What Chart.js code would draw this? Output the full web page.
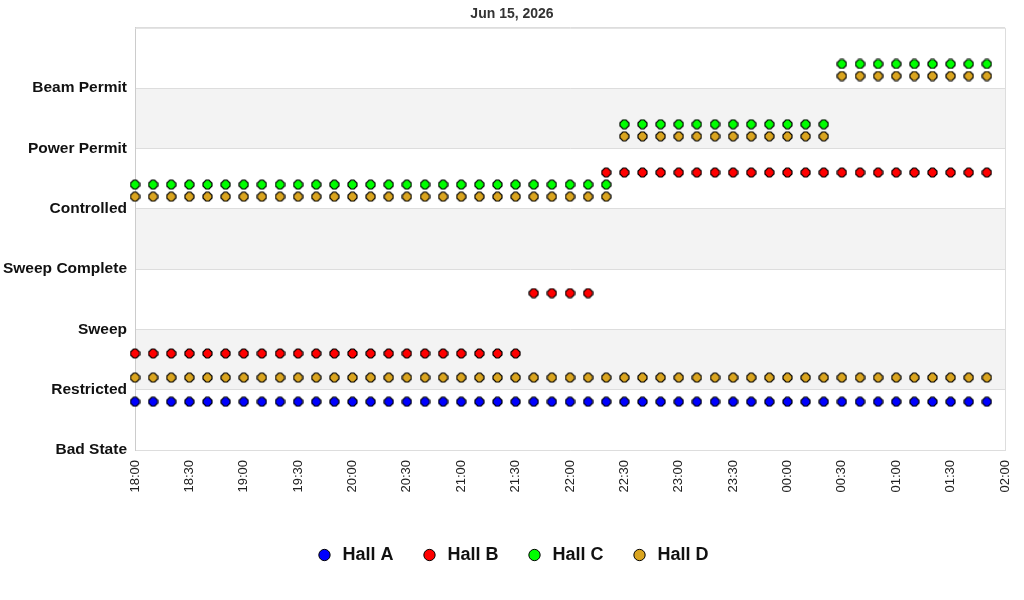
<!DOCTYPE html>
<html>
<head>
<meta charset="utf-8">
<script src="https://cdn.jsdelivr.net/npm/chart.js@4.4.1/dist/chart.umd.min.js"></script>
<style>
	html, body { margin: 0; padding: 0; background: #fff; }
</style>
</head>
<body>
<canvas id="stateChart" width="1024" height="600"></canvas>
<script>
// trạng thái (trục y)
const states = ['Bad State', 'Restricted', 'Sweep', 'Sweep Complete', 'Controlled', 'Power Permit', 'Beam Permit'];

// thời điểm lấy mẫu (10 phút một lần)
const times = [
	'18:00', '18:10', '18:20', '18:30', '18:40', '18:50',
	'19:00', '19:10', '19:20', '19:30', '19:40', '19:50',
	'20:00', '20:10', '20:20', '20:30', '20:40', '20:50',
	'21:00', '21:10', '21:20', '21:30', '21:40', '21:50',
	'22:00', '22:10', '22:20', '22:30', '22:40', '22:50',
	'23:00', '23:10', '23:20', '23:30', '23:40', '23:50',
	'00:00', '00:10', '00:20', '00:30', '00:40', '00:50',
	'01:00', '01:10', '01:20', '01:30', '01:40', '01:50'
];
const xTicks = ['18:00', '18:30', '19:00', '19:30', '20:00', '20:30', '21:00', '21:30', '22:00',
	'22:30', '23:00', '23:30', '00:00', '00:30', '01:00', '01:30', '02:00'];

// chỉ số trạng thái theo từng hall
const hallA = [
	1, 1, 1, 1, 1, 1, 1, 1, 1, 1, 1, 1, 1, 1, 1, 1, 1, 1, 1, 1, 1, 1, 1, 1,
	1, 1, 1, 1, 1, 1, 1, 1, 1, 1, 1, 1, 1, 1, 1, 1, 1, 1, 1, 1, 1, 1, 1, 1
];
const hallB = [
	2, 2, 2, 2, 2, 2, 2, 2, 2, 2, 2, 2, 2, 2, 2, 2, 2, 2, 2, 2, 2, 2, 3, 3,
	3, 3, 5, 5, 5, 5, 5, 5, 5, 5, 5, 5, 5, 5, 5, 5, 5, 5, 5, 5, 5, 5, 5, 5
];
const hallC = [
	4, 4, 4, 4, 4, 4, 4, 4, 4, 4, 4, 4, 4, 4, 4, 4, 4, 4, 4, 4, 4, 4, 4, 4,
	4, 4, 4, 5, 5, 5, 5, 5, 5, 5, 5, 5, 5, 5, 5, 6, 6, 6, 6, 6, 6, 6, 6, 6
];
const hallD = [
	4, 4, 4, 4, 4, 4, 4, 4, 4, 4, 4, 4, 4, 4, 4, 4, 4, 4, 4, 4, 4, 4, 4, 4,
	4, 4, 4, 5, 5, 5, 5, 5, 5, 5, 5, 5, 5, 5, 5, 6, 6, 6, 6, 6, 6, 6, 6, 6
];
// hàng thứ hai của Hall D (cùng màu, không có trong chú thích)
const hallD2 = [
	1, 1, 1, 1, 1, 1, 1, 1, 1, 1, 1, 1, 1, 1, 1, 1, 1, 1, 1, 1, 1, 1, 1, 1,
	1, 1, 1, 1, 1, 1, 1, 1, 1, 1, 1, 1, 1, 1, 1, 1, 1, 1, 1, 1, 1, 1, 1, 1
];

const FONT = "'Liberation Sans', Arial, sans-serif";

// phút tính từ 18:00
function toMin(t) {
	const p = t.split(':');
	let h = +p[0];
	if (h < 18) h += 24;
	return (h - 18) * 60 + (+p[1]);
}

// marker hình bát giác nhỏ
function marker(color) {
	const c = document.createElement('canvas');
	c.width = 11; c.height = 11;
	const g = c.getContext('2d');
	const pts = [[4, 1], [7, 1], [10, 4], [10, 7], [7, 10], [4, 10], [1, 7], [1, 4]];
	g.beginPath();
	pts.forEach((p, i) => i ? g.lineTo(p[0], p[1]) : g.moveTo(p[0], p[1]));
	g.closePath();
	g.fillStyle = color;
	g.fill();
	g.strokeStyle = '#000';
	g.lineWidth = 1.2;
	g.stroke();
	return c;
}

function makeSet(label, vals, offset, color) {
	return {
		label: label,
		data: times.map((t, i) => ({ x: toMin(t), y: vals[i] + offset })),
		backgroundColor: color,
		borderColor: '#000',
		borderWidth: 1,
		pointStyle: marker(color),
		pointRadius: 5,
		pointHoverRadius: 5,
		showLine: false,
		clip: false
	};
}

// nền sọc xám + khung
const bandPlugin = {
	id: 'bands',
	beforeDraw(chart) {
		const ctx = chart.ctx, a = chart.chartArea, y = chart.scales.y;
		ctx.save();
		ctx.fillStyle = '#f3f3f3';
		[1, 3, 5].forEach(v => {
			const top = y.getPixelForValue(v + 1), bot = y.getPixelForValue(v);
			ctx.fillRect(a.left, top, a.right - a.left, bot - top);
		});
		ctx.restore();
	},
	beforeDatasetsDraw(chart) {
		const ctx = chart.ctx, a = chart.chartArea;
		ctx.save();
		ctx.strokeStyle = '#dddddd';
		ctx.lineWidth = 1;
		ctx.beginPath();
		ctx.moveTo(a.left, a.top + 0.5);
		ctx.lineTo(a.right + 0.5, a.top + 0.5);
		ctx.lineTo(a.right + 0.5, a.bottom);
		ctx.stroke();
		ctx.restore();
	}
};

new Chart(document.getElementById('stateChart'), {
	type: 'scatter',
	data: {
		datasets: [
			makeSet('Hall A', hallA, -0.2, '#0000ff'),
			makeSet('Hall B', hallB, -0.4, '#ff0000'),
			makeSet('Hall C', hallC, 0.4, '#00ff00'),
			makeSet('Hall D', hallD, 0.2, '#daa520'),
			makeSet('Hall D ', hallD2, 0.2, '#daa520')
		]
	},
	options: {
		responsive: false,
		animation: false,
		layout: { padding: { left: 0, right: 0, top: 0, bottom: 26 } },
		plugins: {
			tooltip: { enabled: false },
			title: {
				display: true,
				text: 'Jun 15, 2026',
				color: '#333',
				font: { family: FONT, size: 14, weight: 'bold' },
				padding: { top: 6, bottom: 5 }
			},
			legend: {
				position: 'bottom',
				labels: {
					filter: item => item.datasetIndex < 4,
					usePointStyle: true,
					pointStyle: 'circle',
					boxWidth: 18,
					boxHeight: 8,
					padding: 27,
					color: '#111',
					font: { family: FONT, size: 18, weight: 'bold' }
				}
			}
		},
		scales: {
			x: {
				type: 'linear',
				min: 0,
				max: 480,
				afterBuildTicks: scale => {
					scale.ticks = xTicks.map(t => ({ value: t === '02:00' ? 480 : toMin(t) }));
				},
				afterFit: scale => { scale.height = 69; },
				ticks: {
					callback: (v, i) => xTicks[i],
					minRotation: 90,
					maxRotation: 90,
					color: '#222',
					padding: 2,
					font: { family: FONT, size: 13 }
				},
				grid: { display: false },
				border: { color: '#dddddd' }
			},
			y: {
				min: 0,
				max: 7,
				afterFit: scale => { scale.width = 135; },
				ticks: {
					stepSize: 1,
					callback: v => states[v] || '',
					color: '#111',
					padding: 8,
					font: { family: FONT, size: 15.5, weight: 'bold' }
				},
				grid: { color: '#dddddd', drawTicks: false },
				border: { color: '#cccccc' }
			},
			// cột trống bên phải để giữ lề
			yRight: {
				position: 'right',
				afterFit: scale => { scale.width = 19; },
				ticks: { display: false },
				grid: { display: false },
				border: { display: false }
			}
		}
	},
	plugins: [bandPlugin]
});
</script>
</body>
</html>
